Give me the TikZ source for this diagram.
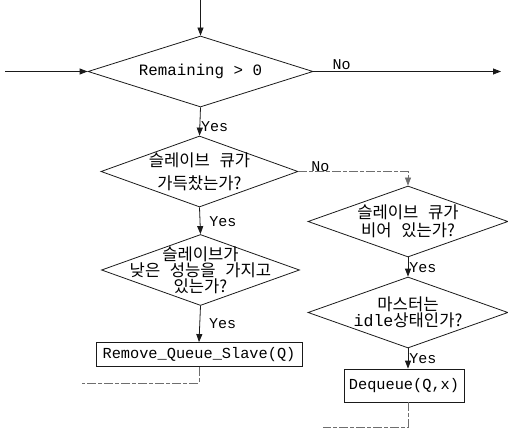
\documentclass[tikz,border=0pt]{standalone}
\usepackage{fontspec}
\setmainfont{Liberation Mono}
\newfontfamily\krfont{Noto Sans CJK KR}[WordSpace=2.6]
\usetikzlibrary{arrows.meta,shapes.geometric}
\definecolor{inkline}{HTML}{1A1A1A}
\definecolor{fadeline}{HTML}{6E6E6E}
\tikzset{
  decision/.style={draw=inkline,shape=diamond,inner sep=0pt,line width=0.8pt,
    minimum width=#1,minimum height=71pt},
  inside/.style={align=center,inner sep=0pt,font=\fontsize{15.8}{#1}\selectfont},
  krinside/.style={inside,font=\fontsize{16.6}{#1}\krfont},
  stepbox/.style={draw=inkline,rectangle,inner sep=2pt,line width=0.8pt,
    font=\fontsize{15.3}{18}\selectfont},
  flow/.style={-{Triangle[length=8pt,width=6pt]},inkline,line width=0.8pt},
  faint/.style={fadeline,line width=0.7pt,dash pattern=on 9pt off 2pt on 4pt off 2pt},
  lbl/.style={inner sep=1pt,text=black,font=\fontsize{15}{18}\selectfont}
}

\begin{document}
\begin{tikzpicture}[x=1pt,y=-1pt]
    \useasboundingbox (0,0) rectangle (508,438);
    % loop test
    \node[decision=225pt,label={[inside=18,name=remtext]center:Remaining > 0}] (rem) at (200.5,71.5) {};
    \coordinate (intop) at (200.5,0);
    \coordinate (inleft) at (5,71.5);
    \coordinate (outright) at (501,71.5);
    % left branch
    \node[decision=197pt,label={[krinside=23,name=fulltext]center:{슬레이브 큐가\\가득찼는가?}}] (full) at (199.5,171.5) {};
    \node[decision=198pt,label={[krinside=15,name=slowtext]center:{슬레이브가\\낮은 성능을 가지고\\있는가?}}] (slow) at (200.5,270) {};
    \node[stepbox,minimum width=206pt,minimum height=24pt] (remove) at (199,354.5) {Remove\_Queue\_Slave(Q)};
    \coordinate (exitleft) at (82,383);
    % right branch
    \node[decision=200pt,label={[krinside=18,name=emptytext]center:{슬레이브 큐가\\비어 있는가?}}] (empty) at (408,221.5) {};
    \node[decision=200pt,label={[krinside=16,name=idletext]center:{마스터는\\{\rmfamily idle}상태인가?}}] (idle) at (408,312.5) {};
    \node[stepbox,minimum width=120pt,minimum height=33pt] (deq) at (404,385.5) {Dequeue(Q,x)};
    \coordinate (exitright) at (323,427);

    \draw[flow] (intop) -- (rem.north);
    \draw[flow] (inleft) -- (rem.west);
    \draw[flow] (rem.east) -- node[lbl,pos=0.15,above] (remno) {No} (outright);
    \draw[flow] (rem.south) -- node[lbl,right,pos=0.68] (remyes) {Yes} (full.north);
    \draw[flow,faint] (full.east) -| node[lbl,pos=0.1,above,inner sep=0pt] (fullno) {No} (empty.north);
    \draw[flow] (full.south) -- node[lbl,right,pos=0.55,xshift=8pt] (fullyes) {Yes} (slow.north);
    \draw[flow] (slow.south) -- node[lbl,right,pos=0.5,xshift=8pt] (slowyes) {Yes} (remove.north);
    \draw[faint] (remove.south) |- (exitleft);
    \draw[flow] (empty.south) -- node[lbl,right,pos=0.55] (emptyyes) {Yes} (idle.north);
    \draw[flow] (idle.south) -- node[lbl,right,pos=0.5] (idleyes) {Yes} (idle.south |- deq.north);
    \draw[faint] (idle.south |- deq.south) |- (exitright);
  \end{tikzpicture}
\end{document}
